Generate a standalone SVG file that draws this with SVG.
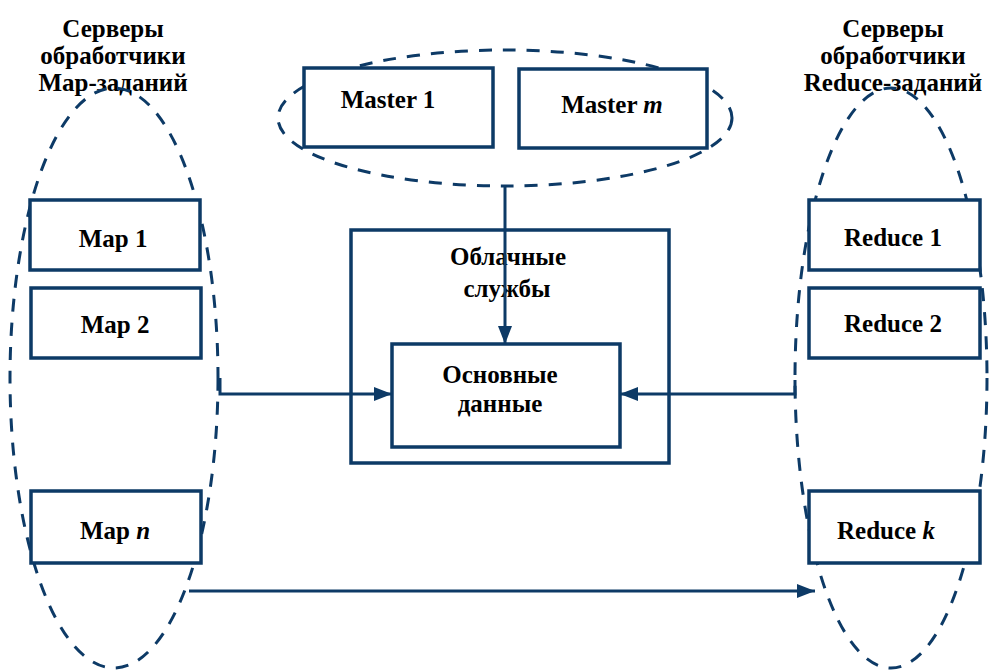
<svg xmlns="http://www.w3.org/2000/svg" width="992" height="670" viewBox="0 0 992 670">
<defs>
<marker id="ah" viewBox="0 0 18 14" refX="18" refY="7" markerWidth="18" markerHeight="14" markerUnits="userSpaceOnUse" orient="auto">
<path d="M0,0 L18,7 L0,14 Z" fill="#0d3a66"/>
</marker>
<style>
.box{fill:#fff;stroke:#0d3a66;stroke-width:3.5}
.grp{fill:none;stroke:#0d3a66;stroke-width:3;stroke-dasharray:13 11}
.t{font-family:"Liberation Serif","Times New Roman",serif;font-weight:bold;font-size:25px;fill:#000;text-anchor:middle}
.ln{fill:none;stroke:#0d3a66;stroke-width:3}
</style>
</defs>
<rect width="992" height="670" fill="#fff"/>

<g id="map-header">
<text class="t" x="113" y="37">Серверы</text>
<text class="t" x="113" y="64">обработчики</text>
<text class="t" x="113" y="91">Map-заданий</text>
</g>
<g id="reduce-header">
<text class="t" x="893" y="37">Серверы</text>
<text class="t" x="893" y="64">обработчики</text>
<text class="t" x="893" y="91">Reduce-заданий</text>
</g>

<g id="cloud">
<rect class="box" x="351" y="230" width="318" height="233"/>
<text class="t" x="508" y="265">Облачные</text>
<text class="t" x="507" y="297">службы</text>
</g>
<g id="core">
<rect class="box" x="392" y="344" width="228" height="103"/>
<text class="t" x="500" y="383">Основные</text>
<text class="t" x="500" y="412">данные</text>
</g>

<g id="masters">
<ellipse class="grp" cx="505" cy="118" rx="227" ry="68"/>
<g id="master1">
<rect class="box" x="304" y="68" width="189" height="79"/>
<text class="t" x="388" y="108">Master 1</text>
</g>
<g id="masterm">
<rect class="box" x="519" y="69" width="188" height="79"/>
<text class="t" x="612" y="113">Master <tspan font-style="italic">m</tspan></text>
</g>
</g>

<g id="maps">
<ellipse class="grp" cx="114" cy="378" rx="104" ry="290"/>
<g id="map1">
<rect class="box" x="30" y="200" width="170" height="70"/>
<text class="t" x="113" y="247">Map 1</text>
</g>
<g id="map2">
<rect class="box" x="31" y="288" width="170" height="70"/>
<text class="t" x="115" y="333">Map 2</text>
</g>
<g id="mapn">
<rect class="box" x="31" y="491" width="170" height="72"/>
<text class="t" x="115" y="539">Map <tspan font-style="italic">n</tspan></text>
</g>
</g>

<g id="reduces">
<ellipse class="grp" cx="891" cy="378" rx="96" ry="290"/>
<g id="reduce1">
<rect class="box" x="809" y="200" width="171" height="70"/>
<text class="t" x="893" y="246">Reduce 1</text>
</g>
<g id="reduce2">
<rect class="box" x="809" y="288" width="171" height="70"/>
<text class="t" x="893" y="332">Reduce 2</text>
</g>
<g id="reducek">
<rect class="box" x="809" y="491" width="171" height="72"/>
<text class="t" x="886" y="539">Reduce <tspan font-style="italic">k</tspan></text>
</g>
</g>

<g id="connectors">
<path class="ln" d="M505,186 V344" marker-end="url(#ah)"/>
<path class="ln" d="M220,378 V394 H392" marker-end="url(#ah)"/>
<path class="ln" d="M795,380 V394 H620" marker-end="url(#ah)"/>
<path class="ln" d="M189,591 H815" marker-end="url(#ah)"/>
</g>
</svg>
